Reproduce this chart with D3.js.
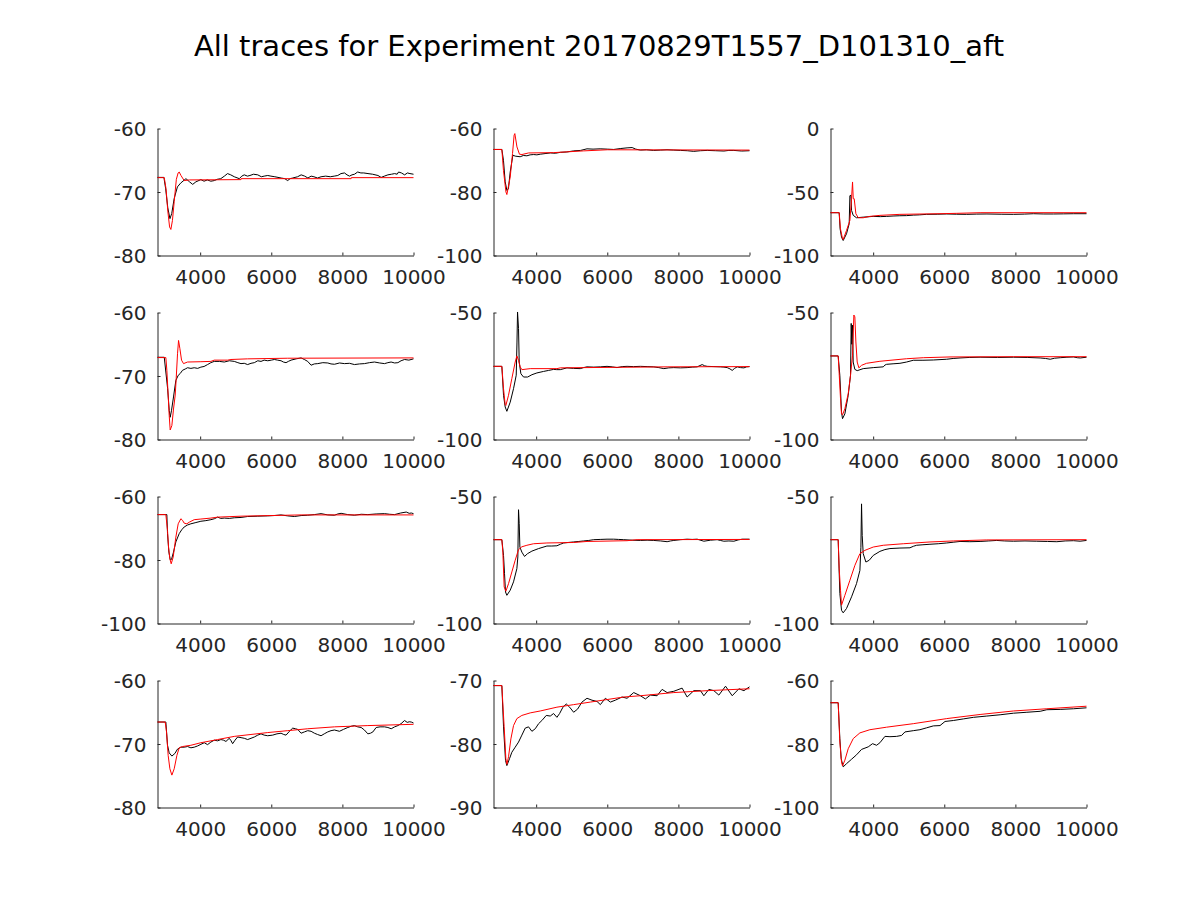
<!DOCTYPE html>
<html>
<head>
<meta charset="utf-8">
<script src="https://cdn.jsdelivr.net/npm/d3@7"></script>
<style>
  body { margin: 0; background: #fff; }
  svg { display: block; }
</style>
</head>
<body>
<script>
const titleText = "All traces for Experiment 20170829T1557_D101310_aft";

const xDomain = [2800, 10000];
const xTicks = [4000, 6000, 8000, 10000];

const yDomains = [
  [-80, -60], [-100, -60], [-100, 0],
  [-80, -60], [-100, -50], [-100, -50],
  [-100, -60], [-100, -50], [-100, -50],
  [-80, -60], [-90, -70], [-100, -60],
];
const yTicks = [
  [-80, -70, -60], [-100, -80, -60], [-100, -50, 0],
  [-80, -70, -60], [-100, -50], [-100, -50],
  [-100, -80, -60], [-100, -50], [-100, -50],
  [-80, -70, -60], [-90, -80, -70], [-100, -80, -60],
];

// recorded traces (black), [time, value]
const rec1 = [[2800,-67.7],[2980,-67.7],[3030,-69.5],[3090,-72.5],[3150,-74.2],[3200,-73.4],[3270,-71.0],[3360,-69.2],[3450,-68.6],[3600,-67.9],[3700,-68.4],[3790,-68.8],[3880,-68.4],[4020,-68.05],[4110,-68.3],[4200,-68.1],[4300,-68.3],[4400,-68.2],[4480,-68.0],[4580,-67.9],[4680,-67.5],[4770,-67.1],[4860,-67.3],[4960,-67.6],[5100,-67.9],[5170,-67.5],[5240,-67.3],[5330,-67.5],[5400,-67.4],[5500,-67.2],[5620,-67.3],[5720,-67.6],[5800,-67.5],[5900,-67.4],[5990,-67.5],[6100,-67.6],[6280,-67.8],[6380,-67.9],[6460,-68.2],[6530,-67.9],[6600,-67.8],[6740,-67.6],[6840,-67.3],[6940,-67.5],[7030,-67.8],[7120,-67.5],[7200,-67.6],[7300,-67.8],[7400,-67.6],[7530,-67.5],[7660,-67.6],[7770,-67.5],[7870,-67.4],[7960,-67.1],[8060,-67.0],[8130,-67.3],[8200,-67.5],[8270,-67.3],[8340,-67.2],[8430,-66.85],[8520,-67.0],[8600,-67.0],[8720,-67.1],[8850,-67.2],[9000,-67.4],[9090,-67.7],[9180,-67.5],[9280,-67.3],[9380,-67.2],[9470,-67.1],[9540,-67.2],[9580,-66.85],[9660,-67.0],[9750,-67.3],[9830,-67.0],[9900,-67.1],[10000,-67.2]];
const rec2 = [[2800,-66.6],[3035,-66.6],[3080,-70],[3129,-76.8],[3176,-79.5],[3220,-79.0],[3270,-73.7],[3345,-68.4],[3410,-68.7],[3550,-68.9],[3640,-68.5],[3740,-68.6],[3830,-68.3],[3930,-68.2],[4020,-68.3],[4115,-68.1],[4250,-67.9],[4400,-67.7],[4540,-67.8],[4680,-67.5],[4860,-67.4],[5054,-67.05],[5250,-66.9],[5430,-66.4],[5600,-66.5],[5800,-66.4],[6000,-66.5],[6180,-66.6],[6380,-66.3],[6556,-66.1],[6700,-66.0],[6800,-66.5],[6930,-66.8],[7100,-66.7],[7300,-66.9],[7500,-66.8],[7680,-66.7],[7870,-66.8],[8060,-66.9],[8250,-67.0],[8430,-67.2],[8620,-67.0],[8810,-66.9],[9050,-67.0],[9280,-67.1],[9420,-66.9],[9560,-66.9],[9780,-67.1],[10000,-67.0]];
const rec3 = [[2800,-66.3],[3044,-66.3],[3070,-79],[3110,-85.5],[3157,-88.2],[3250,-82.9],[3326,-75.0],[3345,-52.9],[3375,-52.6],[3392,-64.5],[3439,-68.4],[3532,-70.3],[3720,-69.8],[4000,-69.2],[4200,-69.4],[4380,-69.2],[4560,-68.9],[4750,-68.7],[4940,-68.6],[5130,-68.2],[5300,-68.0],[5500,-67.6],[5800,-67.5],[6070,-67.3],[6350,-67.5],[6630,-67.6],[6900,-67.4],[7200,-67.3],[7600,-67.5],[7950,-67.6],[8250,-67.4],[8510,-67.1],[8800,-67.3],[9070,-67.3],[9350,-67.2],[9640,-67.1],[10000,-67.1]];
const rec4 = [[2800,-67.05],[2990,-67.05],[3085,-72.0],[3130,-75.4],[3157,-76.5],[3195,-75.4],[3250,-73.3],[3316,-70.7],[3382,-69.9],[3440,-69.6],[3504,-69.1],[3580,-68.9],[3645,-68.7],[3740,-68.8],[3833,-68.7],[3930,-68.8],[4020,-68.6],[4110,-68.5],[4208,-68.2],[4300,-67.9],[4396,-67.7],[4540,-67.7],[4678,-67.8],[4820,-67.6],[4960,-67.7],[5060,-67.9],[5148,-68.05],[5240,-68.0],[5335,-68.2],[5430,-68.0],[5523,-67.9],[5620,-67.6],[5711,-67.7],[5800,-67.5],[5900,-67.6],[6000,-67.5],[6087,-67.4],[6180,-67.5],[6275,-67.6],[6340,-67.8],[6415,-67.9],[6480,-67.7],[6556,-67.5],[6700,-67.3],[6838,-67.15],[6930,-67.4],[7025,-67.7],[7119,-68.3],[7210,-68.1],[7307,-68.05],[7450,-67.9],[7590,-67.95],[7680,-68.1],[7777,-68.15],[7920,-67.95],[8058,-68.05],[8200,-68.0],[8340,-68.2],[8480,-68.1],[8620,-68.05],[8760,-67.9],[8904,-67.8],[9050,-67.95],[9186,-68.05],[9280,-67.9],[9370,-67.8],[9470,-67.95],[9561,-67.9],[9650,-67.6],[9749,-67.4],[9870,-67.5],[10000,-67.3]];
const rec5 = [[2800,-71.2],[3035,-71.2],[3082,-82.6],[3129,-87.2],[3176,-88.9],[3270,-85.3],[3363,-80.0],[3439,-74.7],[3460,-62],[3476,-49.8],[3504,-56.3],[3523,-69.5],[3570,-74.1],[3645,-75.4],[3760,-75.4],[3880,-74.5],[4020,-73.8],[4208,-73.2],[4350,-72.8],[4490,-72.4],[4580,-72.5],[4678,-72.5],[4866,-71.8],[5050,-72.0],[5240,-72.1],[5330,-71.7],[5430,-71.4],[5620,-71.5],[5805,-71.4],[5993,-71.2],[6140,-71.4],[6274,-71.7],[6420,-71.3],[6556,-71.2],[6740,-71.3],[6931,-71.2],[7120,-71.3],[7307,-71.4],[7450,-71.7],[7590,-72.1],[7730,-71.8],[7870,-71.7],[8060,-71.8],[8246,-71.7],[8390,-71.5],[8528,-71.4],[8669,-70.5],[8740,-71.0],[8810,-71.2],[9000,-71.3],[9185,-71.4],[9280,-71.5],[9373,-71.7],[9450,-72.2],[9514,-72.8],[9580,-72.0],[9655,-71.4],[9750,-71.7],[9843,-71.8],[9920,-71.4],[10000,-71.3]];
const rec6 = [[2800,-67.1],[3016,-67.1],[3063,-74.8],[3110,-89.2],[3138,-91.8],[3204,-89.9],[3298,-82.6],[3363,-74.7],[3382,-54.3],[3400,-62.5],[3420,-55.0],[3438,-69.5],[3485,-72.4],[3551,-72.9],[3720,-72.1],[4002,-71.7],[4284,-71.4],[4330,-70.7],[4378,-70.4],[4560,-70.2],[4753,-70.0],[4941,-69.5],[5128,-68.8],[5400,-68.8],[5692,-68.7],[6068,-68.4],[6250,-68.1],[6443,-67.9],[6700,-67.7],[7007,-67.6],[7500,-67.7],[7946,-67.6],[8350,-67.7],[8697,-67.9],[8850,-68.1],[8979,-68.4],[9100,-68.0],[9260,-67.8],[9450,-67.6],[9636,-67.5],[9740,-67.8],[9824,-67.9],[10000,-67.6]];
const rec7 = [[2800,-65.7],[3063,-65.7],[3082,-71.7],[3120,-77.5],[3157,-79.9],[3195,-79.8],[3250,-77.5],[3316,-74.3],[3410,-71.7],[3480,-70.5],[3551,-69.6],[3640,-69.0],[3739,-68.6],[3880,-68.2],[4020,-67.8],[4160,-67.6],[4302,-67.3],[4400,-67.0],[4490,-66.5],[4580,-66.9],[4678,-66.8],[4820,-66.9],[4960,-66.7],[5150,-66.6],[5335,-66.3],[5620,-66.2],[5899,-66.1],[6080,-66.0],[6275,-65.8],[6460,-66.1],[6650,-66.3],[6840,-66.0],[7025,-65.9],[7210,-65.7],[7400,-65.4],[7590,-65.8],[7777,-65.9],[7870,-65.5],[7964,-65.3],[8150,-65.7],[8340,-65.9],[8530,-65.6],[8716,-65.7],[8950,-65.5],[9185,-65.4],[9330,-65.6],[9467,-65.7],[9640,-65.2],[9796,-64.9],[9880,-65.3],[9937,-65.2],[10000,-65.4]];
const rec8 = [[2800,-67.0],[3035,-67.0],[3082,-73.2],[3110,-80.4],[3138,-87.6],[3176,-88.9],[3270,-86.9],[3363,-83.6],[3457,-78.4],[3485,-73.8],[3504,-55.2],[3523,-60.7],[3542,-69.9],[3598,-71.9],[3673,-73.6],[3758,-72.5],[3880,-71.5],[4068,-70.5],[4302,-69.5],[4440,-69.5],[4584,-69.4],[4680,-68.8],[4772,-68.3],[4900,-68.1],[5054,-67.9],[5200,-67.7],[5335,-67.5],[5480,-67.3],[5617,-67.0],[5800,-66.9],[5993,-66.8],[6180,-66.8],[6320,-66.9],[6462,-67.0],[6700,-67.2],[6932,-67.3],[7120,-67.2],[7307,-67.3],[7500,-67.5],[7683,-67.8],[7780,-67.5],[7871,-67.3],[8060,-67.0],[8246,-66.8],[8390,-66.9],[8528,-66.8],[8716,-67.6],[8900,-67.2],[9091,-67.0],[9180,-67.3],[9279,-67.6],[9420,-67.5],[9561,-67.6],[9680,-67.1],[9796,-66.8],[10000,-66.8]];
const rec9 = [[2800,-67.0],[3016,-67.0],[3063,-88.2],[3110,-94.8],[3157,-95.8],[3250,-94.1],[3392,-89.5],[3532,-84.3],[3627,-79.1],[3655,-70],[3673,-52.9],[3692,-65.3],[3720,-72.5],[3795,-75.8],[3889,-75.1],[4002,-73.2],[4190,-71.6],[4330,-70.9],[4472,-70.5],[4753,-70.3],[5035,-70.2],[5130,-69.6],[5222,-69.2],[5400,-69.0],[5598,-68.8],[5830,-68.6],[6068,-68.3],[6250,-68.0],[6443,-67.7],[6720,-67.8],[7007,-67.7],[7250,-67.5],[7476,-67.3],[7700,-67.5],[7946,-67.6],[8270,-67.5],[8600,-67.6],[8900,-67.7],[9166,-67.8],[9400,-67.5],[9636,-67.4],[9820,-67.6],[10000,-67.3]];
const rec10 = [[2800,-66.54],[3035,-66.54],[3082,-70.2],[3129,-71.4],[3204,-71.9],[3288,-71.5],[3363,-70.8],[3457,-70.5],[3550,-70.5],[3645,-70.4],[3740,-70.6],[3833,-70.5],[3930,-70.3],[4020,-70.05],[4115,-69.8],[4208,-70.1],[4300,-69.7],[4396,-69.4],[4490,-69.5],[4584,-69.3],[4660,-69.4],[4725,-69.6],[4819,-69.1],[4870,-69.5],[4913,-69.95],[4980,-69.4],[5054,-68.9],[5150,-69.0],[5241,-69.1],[5335,-69.3],[5430,-69.1],[5523,-68.9],[5620,-68.6],[5711,-68.4],[5800,-68.6],[5899,-68.7],[6040,-68.6],[6160,-68.4],[6275,-68.3],[6350,-68.5],[6415,-68.6],[6510,-68.0],[6603,-67.5],[6680,-67.6],[6744,-67.7],[6838,-68.3],[6930,-68.1],[7025,-67.9],[7120,-68.0],[7213,-68.3],[7300,-68.5],[7400,-68.7],[7490,-68.4],[7588,-68.1],[7680,-67.9],[7776,-67.8],[7850,-67.9],[7917,-68.0],[8030,-67.7],[8152,-67.4],[8250,-67.2],[8340,-67.1],[8430,-67.3],[8528,-67.4],[8620,-67.8],[8716,-68.4],[8790,-68.3],[8857,-68.1],[8950,-67.4],[9060,-67.3],[9185,-67.3],[9280,-67.4],[9373,-67.6],[9470,-67.3],[9561,-67.1],[9650,-66.8],[9749,-66.3],[9824,-66.6],[9880,-66.5],[9937,-66.54],[10000,-66.7]];
const rec11 = [[2800,-70.8],[3035,-70.8],[3082,-77.3],[3138,-82.6],[3176,-83.4],[3251,-82.3],[3316,-81.3],[3410,-80.5],[3504,-79.7],[3598,-78.6],[3692,-77.5],[3786,-77.3],[3880,-78.0],[3974,-77.6],[4068,-76.8],[4161,-76.3],[4284,-75.5],[4396,-75.6],[4490,-75.2],[4584,-75.8],[4659,-75.2],[4753,-74.2],[4847,-73.7],[4941,-74.2],[5054,-75.0],[5166,-74.5],[5288,-73.4],[5429,-72.8],[5570,-73.1],[5711,-73.3],[5805,-73.8],[5946,-72.8],[6087,-73.4],[6227,-73.1],[6415,-72.6],[6556,-72.8],[6744,-71.9],[6932,-72.4],[7072,-72.9],[7213,-72.3],[7401,-72.4],[7542,-71.4],[7683,-71.9],[7871,-71.7],[8105,-71.2],[8246,-72.6],[8434,-71.6],[8622,-71.6],[8716,-72.4],[8857,-71.4],[8998,-71.6],[9138,-72.3],[9326,-70.9],[9514,-72.4],[9702,-71.3],[9843,-71.6],[10000,-71.0]];
const rec12 = [[2800,-67.0],[3016,-67.0],[3063,-78.3],[3100,-84.6],[3157,-87.2],[3251,-86.2],[3392,-84.8],[3533,-83.4],[3674,-81.7],[3861,-80.9],[3983,-79.9],[4096,-80.4],[4190,-79.6],[4331,-77.6],[4472,-77.7],[4660,-77.6],[4800,-77.3],[4894,-76.2],[5129,-75.8],[5316,-75.5],[5504,-74.9],[5692,-74.3],[5880,-74.2],[6021,-72.9],[6255,-72.6],[6537,-72.1],[6819,-71.6],[7195,-71.2],[7570,-70.8],[7946,-70.3],[8322,-70.0],[8697,-69.7],[8885,-69.2],[9260,-69.1],[9636,-68.9],[10000,-68.6]];

// model fits (red), [time, value]
const fit1 = [[2800,-67.74],[2990,-67.74],[3040,-69.5],[3090,-73.0],[3140,-75.5],[3176,-75.9],[3220,-74.5],[3270,-71.5],[3330,-68.0],[3380,-67.0],[3410,-66.85],[3460,-67.4],[3550,-68.2],[3700,-68.1],[5148,-68.05],[5150,-67.9],[8246,-67.9],[8250,-67.74],[10000,-67.74]];
const fit2 = [[2800,-66.6],[3035,-66.6],[3080,-73.2],[3150,-80.0],[3176,-80.8],[3270,-75.3],[3335,-67.9],[3380,-62.1],[3400,-61.6],[3460,-65.8],[3530,-68.1],[3600,-68.2],[3786,-67.7],[4490,-67.6],[5335,-67.05],[6000,-66.7],[10000,-66.8]];
const fit3 = [[2800,-66.3],[3044,-66.3],[3080,-79],[3138,-86.8],[3157,-87.4],[3250,-80.3],[3345,-72.4],[3392,-55.3],[3420,-42.1],[3440,-55.3],[3467,-55.3],[3514,-67.1],[3580,-70.3],[3720,-70.3],[3908,-69.2],[4190,-68.4],[4753,-67.6],[5880,-67.1],[6350,-66.8],[7007,-66.3],[10000,-66.3]];
const fit4 = [[2800,-67.1],[3035,-67.1],[3063,-69.1],[3100,-73.05],[3129,-76.2],[3157,-78.5],[3204,-77.8],[3250,-75.2],[3298,-73.0],[3326,-70.4],[3363,-66.5],[3392,-64.4],[3430,-65.7],[3476,-67.5],[3532,-68.05],[3645,-67.8],[4020,-67.75],[4302,-67.7],[4396,-67.5],[4772,-67.5],[4866,-67.4],[5335,-67.3],[6462,-67.2],[10000,-67.15]];
const fit5 = [[2800,-71.2],[3035,-71.2],[3082,-80.0],[3129,-86.3],[3148,-86.6],[3222,-82.6],[3316,-76.0],[3410,-69.5],[3457,-67.1],[3504,-68.8],[3551,-71.4],[3598,-72.5],[3833,-72.1],[4584,-72.1],[4678,-71.8],[5335,-71.7],[7683,-71.4],[10000,-71.3]];
const fit6 = [[2800,-67.1],[3016,-67.1],[3044,-74.1],[3082,-84.0],[3110,-89.9],[3138,-90.3],[3204,-87.9],[3298,-82.0],[3363,-74.7],[3420,-66.8],[3457,-51.0],[3485,-51.7],[3514,-61.6],[3551,-69.5],[3598,-71.8],[3673,-70.8],[3814,-70.0],[4190,-69.2],[4941,-68.2],[5410,-67.8],[6161,-67.5],[7946,-67.4],[10000,-67.4]];
const fit7 = [[2800,-65.7],[3035,-65.7],[3082,-70.7],[3110,-75.9],[3148,-79.6],[3185,-81.2],[3241,-79.1],[3316,-72.8],[3382,-68.6],[3457,-67.0],[3504,-67.5],[3551,-68.4],[3626,-68.6],[3692,-68.1],[3833,-67.3],[4020,-67.1],[4302,-66.8],[4490,-66.5],[5148,-66.2],[6838,-65.8],[10000,-65.8]];
const fit8 = [[2800,-67.0],[3035,-67.0],[3063,-71.9],[3100,-85.6],[3148,-87.3],[3223,-84.3],[3316,-79.7],[3410,-75.1],[3504,-70.9],[3598,-69.8],[3739,-69.2],[3927,-68.6],[4302,-68.3],[5054,-68.1],[5430,-67.7],[6556,-67.4],[6838,-67.0],[10000,-66.9]];
const fit9 = [[2800,-67.0],[3016,-67.0],[3044,-78.4],[3082,-86.9],[3110,-92.8],[3204,-88.9],[3345,-83.0],[3486,-77.1],[3627,-72.5],[3767,-71.2],[4002,-69.9],[4284,-69.2],[4847,-68.6],[5598,-67.9],[6255,-67.5],[7195,-67.1],[10000,-67.0]];
const fit10 = [[2800,-66.54],[3016,-66.54],[3054,-68.1],[3100,-71.8],[3148,-73.9],[3204,-74.9],[3270,-73.9],[3345,-71.8],[3410,-70.6],[3504,-70.4],[3739,-70.2],[4020,-69.8],[4490,-69.3],[4960,-68.8],[5429,-68.5],[5899,-68.2],[6462,-67.9],[7025,-67.6],[7777,-67.3],[8716,-67.1],[10000,-66.9]];
const fit11 = [[2800,-70.8],[3035,-70.8],[3063,-73.7],[3100,-77.3],[3148,-82.3],[3176,-83.2],[3223,-82.0],[3289,-79.2],[3363,-77.1],[3457,-76.0],[3598,-75.5],[3833,-75.1],[4115,-74.8],[4584,-74.2],[5054,-73.8],[5523,-73.4],[5993,-73.0],[6462,-72.6],[6932,-72.4],[7871,-71.9],[8810,-71.6],[10000,-71.3]];
const fit12 = [[2800,-67.0],[3016,-67.0],[3063,-79.4],[3110,-85.7],[3138,-86.9],[3204,-85.1],[3298,-81.5],[3439,-78.3],[3627,-76.5],[3908,-75.5],[4378,-74.7],[5129,-73.6],[6068,-72.0],[7007,-70.7],[7946,-69.6],[8885,-68.9],[10000,-68.1]];

const recorded = [rec1, rec2, rec3, rec4, rec5, rec6, rec7, rec8, rec9, rec10, rec11, rec12];
const fitted = [fit1, fit2, fit3, fit4, fit5, fit6, fit7, fit8, fit9, fit10, fit11, fit12];

const width = 1200;
const height = 900;
const colLeft = [157, 493, 830];
const rowTop = [128, 312, 496, 680];
const pw = 256;
const ph = 127;
const axisColor = "#262626";
const font = "'DejaVu Sans', sans-serif";

const svg = d3.select("body").append("svg")
  .attr("width", width)
  .attr("height", height);

svg.append("rect").attr("width", width).attr("height", height).attr("fill", "#fff");

svg.append("text")
  .attr("x", 599)
  .attr("y", 56)
  .attr("text-anchor", "middle")
  .attr("font-family", font)
  .attr("font-size", "29px")
  .attr("fill", "#000")
  .text(titleText);

const x = d3.scaleLinear().domain(xDomain).range([0, pw]);
const plain = (d) => String(d); // hyphen minus like the original

recorded.forEach((rec, i) => {
  const col = i % 3;
  const row = Math.floor(i / 3);
  const g = svg.append("g")
    .attr("transform", `translate(${colLeft[col] + 0.5},${rowTop[row] + 0.5})`);

  const y = d3.scaleLinear().domain(yDomains[i]).range([ph, 0]);

  const line = d3.line()
    .x((d) => x(d[0]))
    .y((d) => y(d[1]));

  // x axis
  const xa = g.append("g")
    .attr("transform", `translate(0,${ph})`)
    .call(d3.axisBottom(x).tickValues(xTicks).tickFormat(plain)
      .tickSizeInner(-3).tickSizeOuter(0).tickPadding(14));

  // y axis
  const ya = g.append("g")
    .call(d3.axisLeft(y).tickValues(yTicks[i]).tickFormat(plain)
      .tickSizeInner(-3).tickSizeOuter(0).tickPadding(11));

  [xa, ya].forEach((a) => {
    a.attr("font-family", font).attr("font-size", "20px");
    a.selectAll("path, line").attr("stroke", axisColor);
    a.selectAll("text").attr("fill", axisColor);
  });
  ya.selectAll("text").attr("dy", "0.36em");

  g.append("path")
    .datum(rec)
    .attr("fill", "none")
    .attr("stroke", "#000")
    .attr("stroke-width", 1)
    .attr("d", line);

  g.append("path")
    .datum(fitted[i])
    .attr("fill", "none")
    .attr("stroke", "#ff0000")
    .attr("stroke-width", 1)
    .attr("d", line);
});
</script>
</body>
</html>
